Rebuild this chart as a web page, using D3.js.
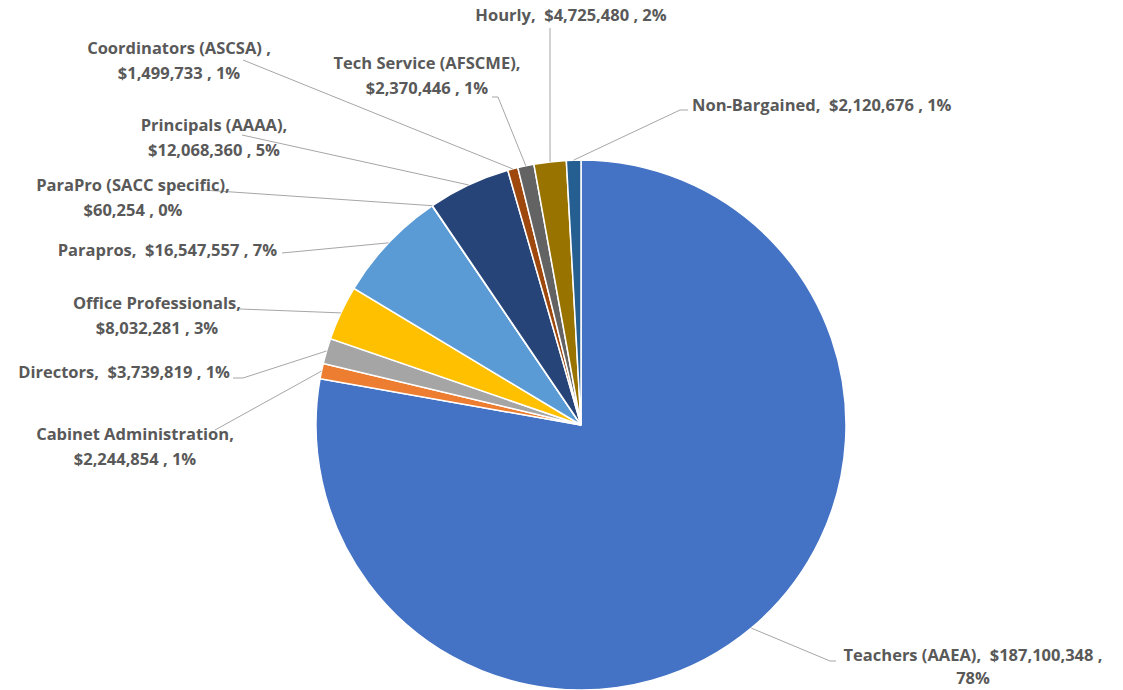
<!DOCTYPE html>
<html>
<head>
<meta charset="utf-8">
<script src="https://cdn.jsdelivr.net/npm/d3@7"></script>
<style>
  body { margin: 0; background: #fff; }
  text { font-family: "Open Sans", sans-serif; font-weight: bold; fill: #595959; white-space: pre; }
</style>
</head>
<body>
<svg id="chart" width="1123" height="690"></svg>
<script>
// slices in clockwise order from 12 o'clock
var categories = ["Teachers (AAEA),", "Cabinet Administration,", "Directors,", "Office Professionals,",
    "Parapros,", "ParaPro (SACC specific),", "Principals (AAAA),", "Coordinators (ASCSA) ,",
    "Tech Service (AFSCME),", "Hourly,", "Non-Bargained,"];
var values = [187100348, 2244854, 3739819, 8032281, 16547557, 60254, 12068360, 1499733, 2370446, 4725480, 2120676];
var pctLabels = ["78%", "1%", "1%", "3%", "7%", "0%", "5%", "1%", "1%", "2%", "1%"];
var colors = ["#4472C4", "#ED7D31", "#A5A5A5", "#FFC000", "#5B9BD5", "#70AD47",
    "#264478", "#9E480E", "#636363", "#997300", "#255E91"];

// label placement: text centre, anchor, how the label wraps, and where the leader line meets it
var labelLayout = [
    { x: 973, y: 655, anchor: "middle", split: "pct",  elbow: [830, 661], tick: 836, gap: 23 },
    { x: 135, y: 434, anchor: "middle", split: "name", elbow: [215, 430] },
    { x: 230, y: 372, anchor: "end",    split: "none", elbow: [243, 378], tick: 233 },
    { x: 157, y: 303, anchor: "middle", split: "name", elbow: [240, 309] },
    { x: 277, y: 250, anchor: "end",    split: "none", elbow: [282, 253] },
    { x: 133, y: 185, anchor: "middle", split: "name", elbow: [203, 190] },
    { x: 214, y: 125, anchor: "middle", split: "name", elbow: [242, 135] },
    { x: 179, y: 48,  anchor: "middle", split: "name", elbow: [243, 60] },
    { x: 427, y: 63,  anchor: "middle", split: "name", elbow: [498, 97], tick: 492 },
    { x: 571, y: 15,  anchor: "middle", split: "none", elbow: [550, 28] },
    { x: 692, y: 105, anchor: "start",  split: "none", elbow: [680, 110], tick: 688 }
];

var cx = 581, cy = 425, radius = 265, lineGap = 25;
var fmt = d3.format(",");

var svg = d3.select("#chart");
var g = svg.append("g").attr("transform", "translate(" + cx + "," + cy + ")");

var pie = d3.pie().sort(null).value(function(d) { return d; });
var arcs = pie(values);
var arc = d3.arc().innerRadius(0).outerRadius(radius);
var edge = d3.arc().innerRadius(radius).outerRadius(radius);

g.selectAll("path.slice")
    .data(arcs)
    .enter().append("path")
    .attr("class", "slice")
    .attr("d", arc)
    .attr("fill", function(d, i) { return colors[i]; })
    .attr("stroke", "#fff")
    .attr("stroke-width", 1.5);

// leader lines
svg.selectAll("polyline.leader")
    .data(arcs)
    .enter().append("polyline")
    .attr("class", "leader")
    .attr("fill", "none")
    .attr("stroke", "#a6a6a6")
    .attr("stroke-width", 1)
    .attr("points", function(d, i) {
        var p = edge.centroid(d), L = labelLayout[i];
        var pts = [[p[0] + cx, p[1] + cy], L.elbow];
        if (L.tick != null) pts.push([L.tick, L.elbow[1]]);
        return pts.map(function(q) { return q.join(","); }).join(" ");
    });

// labels
svg.selectAll("text.label")
    .data(arcs)
    .enter().append("text")
    .attr("class", "label")
    .attr("font-size", 16.5)
    .attr("text-anchor", function(d, i) { return labelLayout[i].anchor; })
    .each(function(d, i) {
        var L = labelLayout[i];
        var money = "$" + fmt(values[i]);
        var gap = L.gap || lineGap;
        var lines;
        if (L.split === "name") lines = [categories[i], money + " , " + pctLabels[i]];
        else if (L.split === "pct") lines = [categories[i] + "  " + money + " ,", pctLabels[i]];
        else lines = [categories[i] + "  " + money + " , " + pctLabels[i]];
        var t = d3.select(this);
        lines.forEach(function(s, k) {
            t.append("tspan")
                .attr("x", L.x)
                .attr("y", L.y + 6 + k * gap)
                .text(s);
        });
    });
</script>
</body>
</html>
